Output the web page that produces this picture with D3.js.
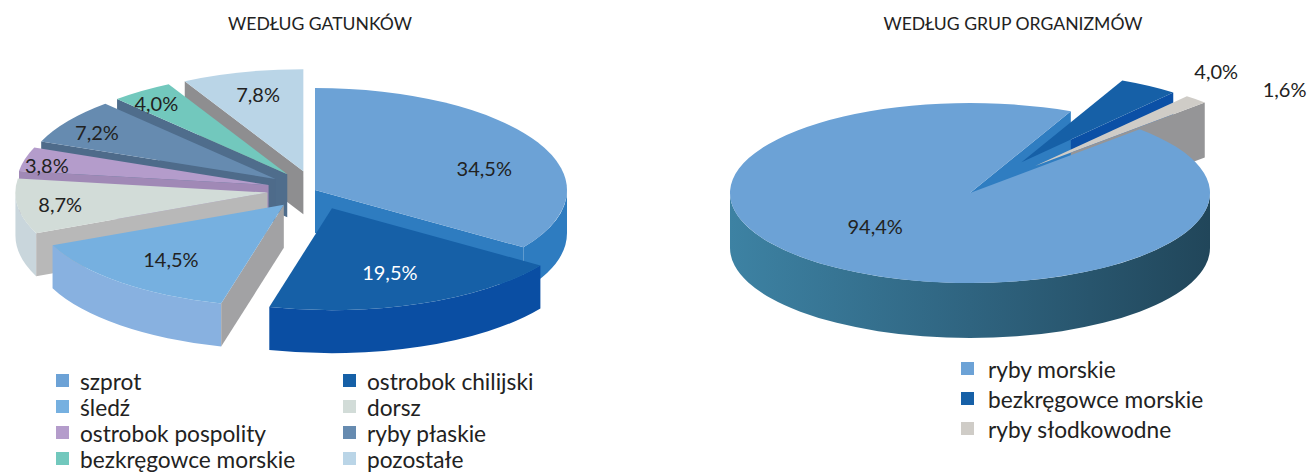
<!DOCTYPE html>
<html>
<head>
<meta charset="utf-8">
<script src="https://cdn.jsdelivr.net/npm/d3@7"></script>
<style>
  body { margin: 0; background: #fff; }
  text { font-family: Lato, "Open Sans", sans-serif; }
</style>
</head>
<body>
<script>
// ---------------------------- DATA ----------------------------
var speciesNames = ['szprot', 'ostrobok chilijski', 'śledź', 'dorsz',
                    'ostrobok pospolity', 'ryby płaskie', 'bezkręgowce morskie', 'pozostałe']
var speciesValues = [34.5, 19.5, 14.5, 8.7, 3.8, 7.2, 4.0, 7.8]

var groupNames = ['ryby morskie', 'bezkręgowce morskie', 'ryby słodkowodne']
var groupValues = [94.4, 4.0, 1.6]

// ---------------------------- STYLE ----------------------------
var speciesTop  = ['#6ca2d6', '#1660a7', '#76b0e0', '#d2dcd8', '#b49ccb', '#668bb0', '#72c8bd', '#bad5e7']
var speciesWall = ['#2e7cc0', '#0a4ea3', '#88b1e0', '#c9d6dc', '#9f87b4', '#4e6b8b', '#72c8bd', '#bad5e7']
var speciesSide = ['#2e7cc0', '#0a4ea3', '#a2a2a4', '#b8b8b8', '#a089b6', '#4e6b8a', '#4f6d8c', '#8e8e90']
var speciesExplode = [0, 1, 1, 1, 1, 1, 1, 1]
var speciesLabelPos = [[0.76, 0.46], [0.65, 0.67], [0.69, 0.70], [0.83, 0.86],
                       [0.91, 0.77], [0.86, 0.81], [0.90, 0.85], [0.74, 0.78]]
var speciesLabelFill = ['#222', '#fff', '#222', '#222', '#222', '#222', '#222', '#222']

var groupTop  = ['#6ca2d6', '#1660a7', '#cfccc7']
var groupWall = ['url(#wallGrad)', '#0a4ea3', '#959597']
var groupSide = ['#2f7dc1', '#0b50a6', '#959597']
var groupExplode = [0, 1, 1]
var groupLabelPos = [[0.69, 0.45], [1.53, 1.2], [1.55, 1.15]]
var groupLabelFill = ['#222', '#222', '#222']

var width = 1312, height = 474

var svg = d3.select('body').append('svg')
  .attr('width', width)
  .attr('height', height)

svg.append('rect').attr('width', width).attr('height', height).attr('fill', '#fff')

var defs = svg.append('defs')
var grad = defs.append('linearGradient').attr('id', 'wallGrad')
  .attr('gradientUnits', 'userSpaceOnUse')
  .attr('x1', 730).attr('x2', 1210).attr('y1', 0).attr('y2', 0)
grad.append('stop').attr('offset', '0%').attr('stop-color', '#3d82a3')
grad.append('stop').attr('offset', '50%').attr('stop-color', '#2f6480')
grad.append('stop').attr('offset', '100%').attr('stop-color', '#21465a')

// ---------------------------- 3D PIE ----------------------------
function pie3d(g, cfg) {
  var rx = cfg.rx, ry = cfg.ry, dz = cfg.depth
  var arcs = d3.pie().sort(null)
    .startAngle(cfg.start).endAngle(cfg.start + 2 * Math.PI)(cfg.values)

  arcs.forEach(function (a, i) {
    var mid = (a.startAngle + a.endAngle) / 2
    var e = cfg.explode[i] * cfg.E
    a.i = i
    a.mid = mid
    a.ox = cfg.cx + Math.sin(mid) * e
    a.oy = cfg.cy - Math.cos(mid) * e * ry / rx
    a.key = -Math.cos(mid) * (e + rx * 0.5)
  })

  function pt(a, ang, down) {
    return [a.ox + rx * Math.sin(ang), a.oy - ry * Math.cos(ang) + (down || 0)]
  }

  var order = arcs.slice().sort(function (p, q) { return p.key - q.key })
  var walls = g.append('g'), tops = g.append('g')

  order.forEach(function (a) {
    var a0 = a.startAngle, a1 = a.endAngle
    var c = [a.ox, a.oy], cb = [a.ox, a.oy + dz]

    // outer wall on the front half
    ;[0, 1].forEach(function (k) {
      var lo = Math.max(a0, Math.PI / 2 + 2 * Math.PI * k)
      var hi = Math.min(a1, 3 * Math.PI / 2 + 2 * Math.PI * k)
      if (hi - lo < 1e-4) return
      var p0 = pt(a, lo), p1 = pt(a, hi), q1 = pt(a, hi, dz), q0 = pt(a, lo, dz)
      walls.append('path')
        .attr('d', 'M' + p0 + 'A' + rx + ',' + ry + ' 0 0 1 ' + p1 +
                   'L' + q1 + 'A' + rx + ',' + ry + ' 0 0 0 ' + q0 + 'Z')
        .attr('fill', cfg.wall[a.i])
    })

    // radial faces turned to the viewer
    if (Math.sin(a0) < -1e-6) {
      walls.append('path')
        .attr('d', 'M' + c + 'L' + pt(a, a0) + 'L' + pt(a, a0, dz) + 'L' + cb + 'Z')
        .attr('fill', cfg.side[a.i])
    }
    if (Math.sin(a1) > 1e-6) {
      walls.append('path')
        .attr('d', 'M' + c + 'L' + pt(a, a1) + 'L' + pt(a, a1, dz) + 'L' + cb + 'Z')
        .attr('fill', cfg.side[a.i])
    }

    // top
    var large = (a1 - a0) > Math.PI ? 1 : 0
    tops.append('path')
      .attr('d', 'M' + c + 'L' + pt(a, a0) + 'A' + rx + ',' + ry + ' 0 ' + large + ' 1 ' + pt(a, a1) + 'Z')
      .attr('fill', cfg.top[a.i])
  })

  // labels
  g.selectAll('text.lbl')
    .data(arcs)
    .enter()
    .append('text')
    .attr('class', 'lbl')
    .attr('x', function (a) { return a.ox + Math.sin(a.mid) * rx * cfg.labelPos[a.i][0] })
    .attr('y', function (a) { return a.oy - Math.cos(a.mid) * ry * cfg.labelPos[a.i][1] })
    .attr('text-anchor', 'middle')
    .attr('dominant-baseline', 'central')
    .attr('font-size', 20)
    .attr('fill', function (a) { return cfg.labelFill[a.i] })
    .text(function (a) { return d3.format('.1f')(a.data).replace('.', ',') + '%' })
}

pie3d(svg.append('g'), {
  values: speciesValues, start: 0,
  cx: 315, cy: 190, rx: 252, ry: 102, depth: 43, E: 48,
  explode: speciesExplode, top: speciesTop, wall: speciesWall, side: speciesSide,
  labelPos: speciesLabelPos, labelFill: speciesLabelFill
})

pie3d(svg.append('g'), {
  values: groupValues, start: Math.PI / 4,
  cx: 970, cy: 193, rx: 240, ry: 90, depth: 55, E: 97,
  explode: groupExplode, top: groupTop, wall: groupWall, side: groupSide,
  labelPos: groupLabelPos, labelFill: groupLabelFill
})

// ---------------------------- TITLES ----------------------------
svg.append('text').attr('x', 320).attr('y', 30).attr('text-anchor', 'middle')
  .attr('font-size', 17.6).attr('fill', '#222').text('WEDŁUG GATUNKÓW')
svg.append('text').attr('x', 1013).attr('y', 30).attr('text-anchor', 'middle')
  .attr('font-size', 17.6).attr('fill', '#222').text('WEDŁUG GRUP ORGANIZMÓW')

// ---------------------------- LEGENDS ----------------------------
var speciesLegend = svg.append('g').selectAll('g')
  .data(speciesNames)
  .enter()
  .append('g')
  .attr('transform', function (d, i) {
    return 'translate(' + (i % 2 ? 343 : 56) + ',' + (381 + Math.floor(i / 2) * 26) + ')'
  })
speciesLegend.append('rect').attr('x', 0).attr('y', -7).attr('width', 13).attr('height', 13)
  .attr('fill', function (d, i) { return speciesTop[i] })
speciesLegend.append('text').attr('x', 24).attr('y', 0).attr('dominant-baseline', 'central')
  .attr('font-size', 22.7).attr('fill', '#222').text(function (d) { return d })

var groupLegend = svg.append('g').selectAll('g')
  .data(groupNames)
  .enter()
  .append('g')
  .attr('transform', function (d, i) { return 'translate(961,' + (369 + i * 30) + ')' })
groupLegend.append('rect').attr('x', 0).attr('y', -7).attr('width', 13).attr('height', 13)
  .attr('fill', function (d, i) { return groupTop[i] })
groupLegend.append('text').attr('x', 27).attr('y', 0).attr('dominant-baseline', 'central')
  .attr('font-size', 22.7).attr('fill', '#222').text(function (d) { return d })
</script>
</body>
</html>
